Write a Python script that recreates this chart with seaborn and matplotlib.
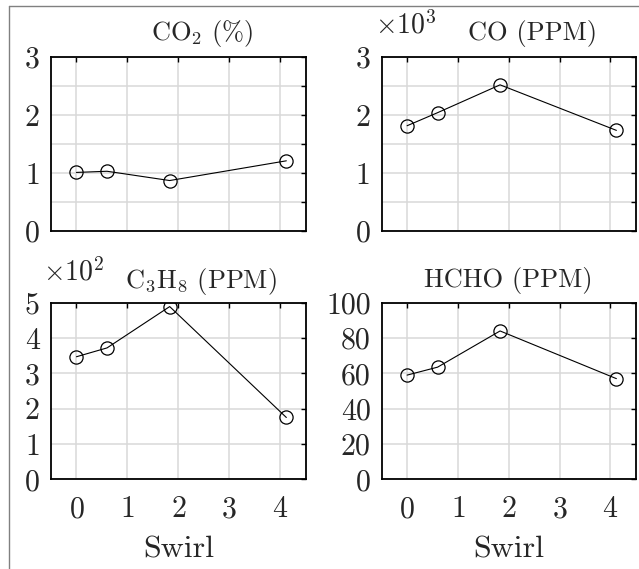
import matplotlib
matplotlib.use("Agg")
import matplotlib.pyplot as plt
from matplotlib.lines import Line2D
from matplotlib.ticker import MultipleLocator, FuncFormatter
import numpy as np
import pandas as pd
import seaborn as sns

# Swirl numbers and measured emissions
swirl = [0.0, 0.6, 1.83, 4.12]
co2_pct = [1.01, 1.03, 0.87, 1.21]
co_ppm = [1815, 2040, 2520, 1735]
c3h8_ppm = [347, 372, 489, 175]
hcho_ppm = [59.0, 63.5, 84.0, 57.0]

titles = ["CO$_2$ (%)", "CO (PPM)", "C$_3$H$_8$ (PPM)", "HCHO (PPM)"]
series = [co2_pct, co_ppm, c3h8_ppm, hcho_ppm]
ylims = [(0, 3), (0, 3000), (0, 500), (0, 100)]
major_steps = [1, 1000, 100, 20]
minor_steps = [0.5, 500, None, None]
scales = [1, 1000, 100, 1]
exponents = [None, 3, 2, None]
xticks = [0, 1, 2, 3, 4]

sns.set_theme(style="white")
plt.rcParams.update({
    "font.family": ["cmr10", "DejaVu Sans"],
    "mathtext.fontset": "cm",
    "axes.formatter.use_mathtext": True,
    "axes.unicode_minus": False,
})

W, H = 639, 569
fig = plt.figure(figsize=(W / 100, H / 100), dpi=100)

# axes rectangles in pixels: left, top, right, bottom
rects = [(51, 57, 305.7, 231), (381.7, 57, 635.7, 231),
         (51, 302.7, 305.7, 479.3), (381.7, 302.7, 635.7, 479.3)]
title_pos = [(0.593, 1.098), (0.594, 1.098), (0.59, 1.081), (0.5, 1.09)]
exp_pos = [None, (-0.026, 1.136), (-0.031, 1.125), None]

GRID = "#d9d9d9"
TICK_FS = 21.5
TITLE_FS = 19
LABEL_FS = 23
EXP_FS = 20

for i, (l, t, r, b) in enumerate(rects):
    ax = fig.add_axes([l / W, (H - b) / H, (r - l) / W, (b - t) / H])
    df = pd.DataFrame({"swirl": swirl, "value": series[i]})
    sns.lineplot(data=df, x="swirl", y="value", ax=ax, color="black",
                 linewidth=0.8, marker="o", markersize=9.5,
                 markerfacecolor="none", markeredgecolor="black",
                 markeredgewidth=0.9, zorder=3)
    ax.set_xlim(-0.5, 4.5)
    ax.set_ylim(*ylims[i])
    ax.set_xticks(xticks)
    ax.yaxis.set_major_locator(MultipleLocator(major_steps[i]))
    if minor_steps[i] is not None:
        ax.yaxis.set_minor_locator(MultipleLocator(minor_steps[i]))
    s = scales[i]
    ax.yaxis.set_major_formatter(FuncFormatter(lambda v, p, s=s: f"{v / s:g}"))
    ax.grid(True, which="both", color=GRID, linewidth=1.1, zorder=0)
    ax.set_axisbelow(True)
    ax.tick_params(axis="both", which="both", direction="in", top=True,
                   right=True, length=3.5, width=1.0, color="black",
                   labelsize=TICK_FS)
    ax.tick_params(axis="y", which="major", pad=8)
    ax.tick_params(axis="x", which="major", pad=12)
    for sp in ax.spines.values():
        sp.set_linewidth(1.3)
        sp.set_color("black")
        sp.set_visible(True)
    ax.set_xlabel("")
    ax.set_ylabel("")
    if i < 2:
        ax.tick_params(axis="x", labelbottom=False)
    else:
        ax.text(0.5, -0.44, "Swirl", transform=ax.transAxes, ha="center",
                va="baseline", fontsize=LABEL_FS)
    tx, ty = title_pos[i]
    ax.text(tx, ty, titles[i], transform=ax.transAxes, ha="center",
            va="baseline", fontsize=TITLE_FS)
    if exponents[i] is not None:
        ex, ey = exp_pos[i]
        ax.text(ex, ey, r"$\times10^{%d}$" % exponents[i], transform=ax.transAxes,
                ha="left", va="baseline", fontsize=EXP_FS)

# thin grey frame along the top and left edge
fig.add_artist(Line2D([9 / W, 9 / W], [0, 1 - 6 / H], transform=fig.transFigure,
                      color="#808080", linewidth=1.0))
fig.add_artist(Line2D([9 / W, 1], [1 - 6 / H, 1 - 6 / H], transform=fig.transFigure,
                      color="#808080", linewidth=1.0))

fig.savefig("out.png", dpi=100, facecolor="white")
